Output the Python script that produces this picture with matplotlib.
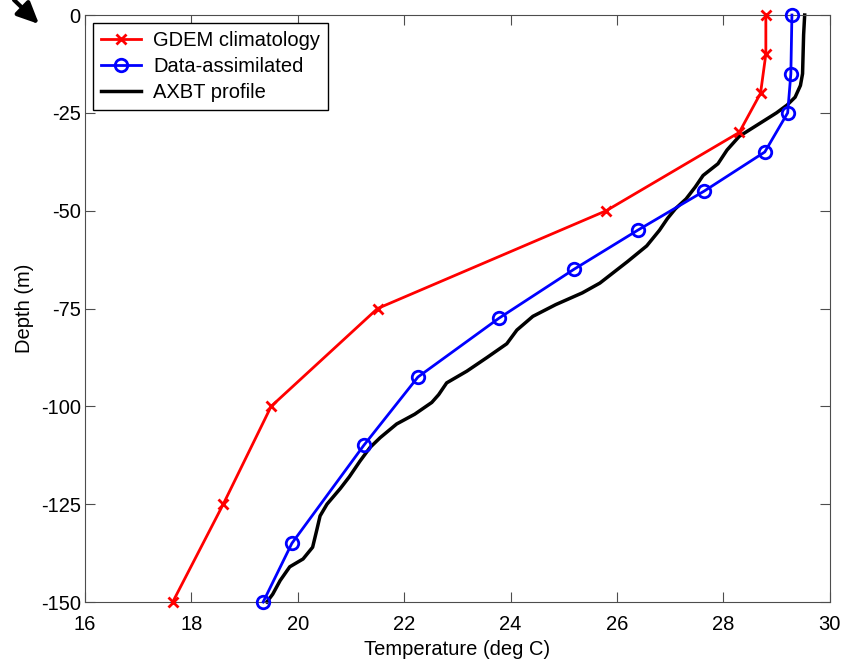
import numpy as np
import matplotlib
matplotlib.use("Agg")
import matplotlib.pyplot as plt

plt.rcParams['font.family'] = ['Liberation Sans', 'DejaVu Sans']
plt.rcParams['axes.unicode_minus'] = False

# GDEM climatology
gdem_depth = [0, -10, -20, -30, -50, -75, -100, -125, -150]
gdem_temp = [28.8, 28.8, 28.7, 28.3, 25.8, 21.5, 19.5, 18.6, 17.65]

# data-assimilated profile
da_depth = [0, -15, -25, -35, -45, -55, -65, -77.5, -92.5, -110, -135, -150]
da_temp = [29.29, 29.27, 29.21, 28.78, 27.64, 26.39, 25.19, 23.78, 22.26, 21.24, 19.89, 19.35]

# AXBT observed profile
axbt_depth = [0, -5, -10, -15, -18, -21, -23, -25, -28, -31, -34.5, -38, -41, -44,
              -47, -49.5, -52, -55, -59, -63, -68.5, -71, -74, -77, -80.5, -84,
              -87.5, -91, -94, -97, -99, -102, -104.5, -108, -110.5, -114, -118,
              -121, -125, -128, -131.5, -136, -139, -141, -144.5, -148, -150]
axbt_temp = [29.53, 29.51, 29.5, 29.49, 29.45, 29.35, 29.2, 29.0, 28.65, 28.3,
             28.07, 27.9, 27.62, 27.47, 27.3, 27.1, 26.95, 26.8, 26.56, 26.2,
             25.68, 25.35, 24.85, 24.42, 24.12, 23.93, 23.56, 23.18, 22.8, 22.65,
             22.52, 22.2, 21.86, 21.55, 21.36, 21.17, 20.97, 20.8, 20.55, 20.42,
             20.36, 20.28, 20.1, 19.85, 19.67, 19.53, 19.42]

xticks = np.arange(16, 31, 2)
yticks = [0, -25, -50, -75, -100, -125, -150]

fig = plt.figure(figsize=(8.58, 6.62), dpi=100)
ax = fig.add_axes([0.099, 0.0906, 0.868, 0.8867])

ax.plot(gdem_temp, gdem_depth, '-x', color='red', lw=2, ms=7, mew=2,
        label='GDEM climatology', clip_on=False, zorder=3)
ax.plot(da_temp, da_depth, '-o', color='blue', lw=2, ms=9, mew=2,
        mfc='none', label='Data-assimilated', clip_on=False, zorder=3)
ax.plot(axbt_temp, axbt_depth, '-', color='black', lw=2.5,
        label='AXBT profile', clip_on=False, zorder=2)

ax.set_xlim(16, 30)
ax.set_ylim(-150, 0)
ax.set_xticks(xticks)
ax.set_yticks(yticks)
ax.tick_params(direction='in', length=7, top=True, right=True,
               labelsize=14.5, color='0.3')
ax.tick_params(axis='x', pad=9)
ax.tick_params(axis='y', pad=3)
for sp in ax.spines.values():
    sp.set_color('0.3')
ax.set_xlabel('Temperature (deg C)', fontsize=14.5, labelpad=5)
ax.set_ylabel('Depth (m)', fontsize=14.5, labelpad=5)

leg = ax.legend(loc='upper left', fontsize=14.5, fancybox=False,
                edgecolor='black', framealpha=1, handlelength=2.0,
                borderaxespad=0.4, labelspacing=0.35, handletextpad=0.6)
leg.get_frame().set_linewidth(1)

# arrow in the top-left corner
ax.annotate('', xy=(41 / 858, 1 - 26 / 662), xycoords='figure fraction',
            xytext=(12 / 858, 1 + 2 / 662), textcoords='figure fraction',
            arrowprops=dict(arrowstyle='-|>,head_length=1.3,head_width=0.6',
                            color='black', lw=3), annotation_clip=False)

fig.savefig('out.png', dpi=100)
